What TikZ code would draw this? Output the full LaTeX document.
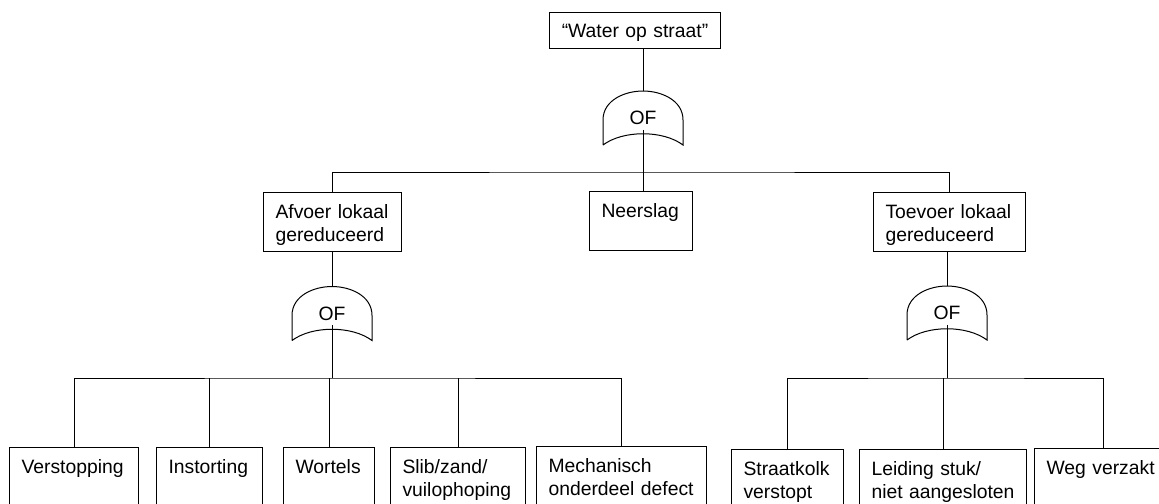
\documentclass[tikz,border=0pt]{standalone}
\usepackage{fontspec}
\setmainfont{Liberation Sans}
\usepackage{tikz}
\usetikzlibrary{positioning,calc}

\tikzset{
  event/.style={draw, anchor=north west, inner xsep=9pt, inner ysep=9pt, align=left,
    text height=10.4pt, text depth=16.2pt},
  leaf/.style={event, text depth=24.1pt},
  orgate/.style={minimum width=60pt, minimum height=40.5pt, inner sep=0pt}
}

\begin{document}
\begin{tikzpicture}[x=0.75pt, y=-0.75pt, line width=0.75pt,
  every node/.style={font=\fontsize{14.5pt}{17.5pt}\selectfont}]
\useasboundingbox (0,0) rectangle (1159,503);
\clip (0,0) rectangle (1159,503);

\node[event, align=center, text width=112.25pt, inner xsep=8pt, inner ysep=8pt, text depth=0.6pt] (water) at (549,12) {“Water op straat”};

\node[event, text width=85.5pt] (afvoer) at (263,192) {Afvoer lokaal\\gereduceerd};
\node[event, text width=59.25pt] (neerslag) at (589,191) {Neerslag};
\node[event, text width=96pt] (toevoer) at (873,192) {Toevoer lokaal\\gereduceerd};

\node[leaf, text width=78.75pt] (verstopping) at (9,447) {Verstopping};
\node[leaf, text width=61.5pt] (instorting) at (156,447) {Instorting};
\node[leaf, text width=50.25pt] (wortels) at (283,447) {Wortels};
\node[leaf, text width=83.25pt] (slib) at (390,447) {Slib/zand/\\vuilophoping};
\node[leaf, text width=109.5pt] (mechanisch) at (536,446) {Mechanisch\\onderdeel defect};
\node[leaf, text width=66pt] (straatkolk) at (731,449) {Straatkolk\\verstopt};
\node[leaf, text width=107.25pt] (leiding) at (859,449) {Leiding stuk/\\niet aangesloten};
\node[leaf, text width=85.5pt] (weg) at (1034,448) {Weg verzakt};

\node[orgate] (og0) at (643,118) {OF};
\node[orgate] (og1) at (332,313.5) {OF};
\node[orgate] (og2) at (947,313) {OF};

\foreach \g in {og0,og1,og2}
  \draw[shift={(\g.center)}] (-40,27) -- (-40,2)
    .. controls (-40,-18) and (-18,-27) .. (0,-27)
    .. controls (18,-27) and (40,-18) .. (40,2) -- (40,27)
    .. controls (20,12) and (-20,12) .. (-40,27);

\coordinate (bus0) at (643,172);
\coordinate (bus1) at (332,378);
\coordinate (bus2) at (947,378);

\draw (og0.north |- water.south) -- (og0.north);
\draw ([yshift=11.8pt]og0.south) -- (bus0);
\draw (afvoer.north) |- (bus0) -| (toevoer.north);
\draw (bus0) -- (bus0 |- neerslag.north);

\draw (og1.north |- afvoer.south) -- (og1.north);
\draw ([yshift=11.8pt]og1.south) -- (bus1);
\draw (verstopping.north) |- (bus1) -| (mechanisch.north);
\foreach \n in {instorting,wortels,slib}
  \draw (\n.north) -- (\n.north |- bus1);

\draw (og2.north |- toevoer.south) -- (og2.north);
\draw ([yshift=11.8pt]og2.south) -- (bus2);
\draw (straatkolk.north) |- (bus2) -| (weg.north);
\draw (leiding.north) -- (leiding.north |- bus2);
\end{tikzpicture}
\end{document}
